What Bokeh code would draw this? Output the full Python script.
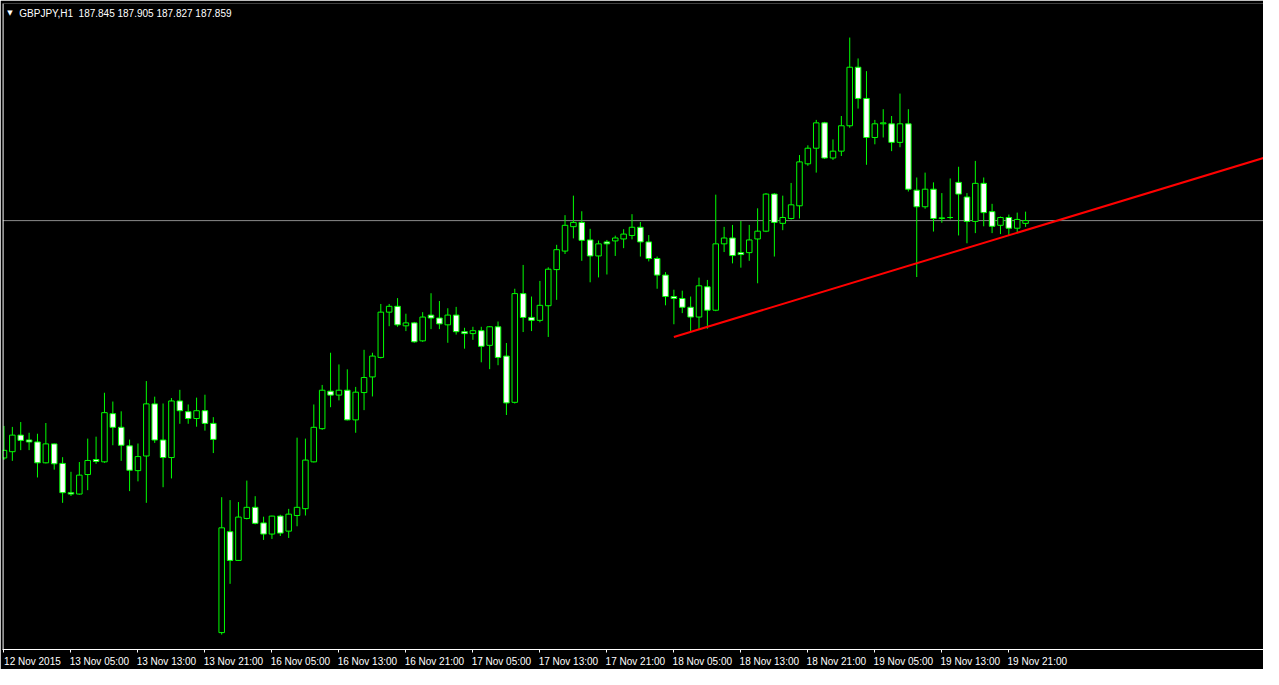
from bokeh.plotting import figure
from bokeh.models import Range1d, FixedTicker, LinearAxis, Span, Label
from bokeh.embed import file_html
from bokeh.resources import INLINE

# ---------------- data (GBPJPY, H1) ----------------
opens = [
    186.643, 186.675, 186.760, 186.735, 186.725, 186.618, 186.715, 186.615, 186.465, 186.458,
    186.558, 186.635, 186.623, 186.870, 186.800, 186.705, 186.578, 186.653, 186.920, 186.735,
    186.645, 186.935, 186.880, 186.845, 186.885, 186.820, 185.748, 186.265, 186.118, 186.333,
    186.390, 186.310, 186.253, 186.345, 186.268, 186.348, 186.383, 186.623, 186.793, 186.985,
    186.965, 186.990, 186.838, 186.978, 187.058, 187.158, 187.390, 187.420, 187.320, 187.335,
    187.243, 187.375, 187.360, 187.325, 187.375, 187.290, 187.280, 187.295, 187.220, 187.315,
    187.165, 186.928, 187.485, 187.363, 187.348, 187.423, 187.608, 187.703, 187.828, 187.850,
    187.760, 187.678, 187.750, 187.755, 187.765, 187.783, 187.825, 187.750, 187.665, 187.580,
    187.470, 187.460, 187.415, 187.365, 187.520, 187.400, 187.740, 187.770, 187.695, 187.695,
    187.765, 187.805, 187.995, 187.845, 187.870, 187.935, 188.150, 188.230, 188.360, 188.180,
    188.215, 188.345, 188.645, 188.485, 188.285, 188.355, 188.355, 188.260, 188.355, 188.015,
    187.930, 188.020, 187.870, 187.875, 188.055, 187.980, 187.855, 188.050, 187.905, 187.835,
    187.875, 187.820, 187.845]

highs = [
    186.807, 186.802, 186.827, 186.772, 186.767, 186.822, 186.717, 186.647, 186.572, 186.622,
    186.742, 186.752, 186.977, 186.932, 186.882, 186.737, 186.717, 187.037, 186.957, 186.922,
    186.950, 186.992, 186.917, 186.952, 186.967, 186.852, 186.442, 186.427, 186.417, 186.527,
    186.447, 186.342, 186.347, 186.352, 186.382, 186.747, 186.742, 186.917, 187.017, 187.182,
    187.122, 187.097, 187.007, 187.197, 187.182, 187.432, 187.432, 187.462, 187.382, 187.340,
    187.390, 187.487, 187.447, 187.410, 187.417, 187.310, 187.315, 187.315, 187.318, 187.342,
    187.232, 187.510, 187.632, 187.470, 187.550, 187.620, 187.735, 187.887, 187.987, 187.907,
    187.817, 187.757, 187.760, 187.782, 187.815, 187.892, 187.852, 187.785, 187.675, 187.595,
    187.505, 187.500, 187.470, 187.567, 187.555, 187.992, 187.827, 187.837, 187.857, 187.837,
    187.922, 188.000, 188.000, 187.987, 188.052, 188.195, 188.245, 188.375, 188.365, 188.275,
    188.395, 188.797, 188.690, 188.625, 188.375, 188.430, 188.395, 188.510, 188.430, 188.080,
    188.105, 188.055, 188.000, 188.075, 188.135, 188.000, 188.165, 188.080, 187.945, 187.880,
    187.890, 187.900, 187.905]

lows = [
    186.633, 186.628, 186.683, 186.683, 186.543, 186.615, 186.583, 186.413, 186.448, 186.455,
    186.478, 186.613, 186.618, 186.708, 186.628, 186.473, 186.523, 186.413, 186.720, 186.493,
    186.538, 186.818, 186.818, 186.803, 186.783, 186.668, 185.738, 185.998, 186.115, 186.328,
    186.303, 186.223, 186.228, 186.243, 186.233, 186.293, 186.348, 186.620, 186.787, 186.903,
    186.938, 186.835, 186.772, 186.888, 186.958, 187.153, 187.318, 187.315, 187.293, 187.233,
    187.238, 187.303, 187.303, 187.233, 187.275, 187.203, 187.248, 187.133, 187.098, 187.118,
    186.863, 186.922, 187.288, 187.293, 187.338, 187.263, 187.453, 187.688, 187.768, 187.653,
    187.543, 187.568, 187.583, 187.678, 187.718, 187.763, 187.675, 187.650, 187.510, 187.425,
    187.328, 187.385, 187.292, 187.303, 187.305, 187.395, 187.698, 187.640, 187.618, 187.653,
    187.538, 187.800, 187.675, 187.810, 187.865, 187.870, 188.140, 188.105, 188.175, 188.170,
    188.190, 188.335, 188.433, 188.145, 188.250, 188.285, 188.215, 188.235, 188.008, 187.570,
    187.920, 187.803, 187.848, 187.865, 187.783, 187.743, 187.795, 187.830, 187.795, 187.790,
    187.783, 187.800, 187.827]

closes = [
    186.682, 186.760, 186.733, 186.725, 186.618, 186.715, 186.613, 186.465, 186.458, 186.555,
    186.630, 186.625, 186.875, 186.800, 186.708, 186.580, 186.650, 186.920, 186.735, 186.645,
    186.935, 186.885, 186.845, 186.885, 186.820, 186.738, 186.285, 186.118, 186.340, 186.390,
    186.308, 186.253, 186.345, 186.258, 186.355, 186.390, 186.632, 186.800, 186.990, 186.965,
    186.990, 186.838, 186.980, 187.055, 187.165, 187.390, 187.420, 187.325, 187.335, 187.238,
    187.365, 187.360, 187.330, 187.375, 187.290, 187.280, 187.295, 187.215, 187.315, 187.158,
    186.925, 187.485, 187.363, 187.348, 187.425, 187.610, 187.710, 187.835, 187.850, 187.758,
    187.678, 187.740, 187.740, 187.770, 187.790, 187.825, 187.750, 187.665, 187.580, 187.470,
    187.460, 187.415, 187.365, 187.525, 187.400, 187.740, 187.770, 187.680, 187.685, 187.760,
    187.805, 187.995, 187.850, 187.875, 187.940, 188.160, 188.230, 188.360, 188.180, 188.215,
    188.345, 188.645, 188.485, 188.285, 188.355, 188.360, 188.260, 188.355, 188.020, 187.930,
    188.020, 187.870, 187.873, 187.875, 187.995, 187.855, 188.050, 187.900, 187.830, 187.875,
    187.820, 187.865, 187.859]

tick_labels = ["12 Nov 2015", "13 Nov 05:00", "13 Nov 13:00", "13 Nov 21:00",
               "16 Nov 05:00", "16 Nov 13:00", "16 Nov 21:00", "17 Nov 05:00",
               "17 Nov 13:00", "17 Nov 21:00", "18 Nov 05:00", "18 Nov 13:00",
               "18 Nov 21:00", "19 Nov 05:00", "19 Nov 13:00", "19 Nov 21:00"]
tick_bars = [0, 8, 16, 24, 32, 40, 48, 56, 64, 72, 80, 88, 96, 104, 112, 120]

# trend line drawn on the chart (bar index, price)
trend_x = [80, 150.5]
trend_y = [187.263, 188.181]

symbol = "GBPJPY,H1"

# ---------------- layout helpers (reference pixel -> data) ----------------
BAR_PX, X0_PX = 8.48, 3.5
PX_PER_YEN, Y_REF_PX, Y_REF = 200.0, 225.5, 187.859


def xd(px):
    return (px - X0_PX) / BAR_PX


def yd(py):
    return Y_REF + (Y_REF_PX - py) / PX_PER_YEN


W, H = 1263, 669
LIME = "#00ff00"

p = figure(width=W, height=H, output_backend="svg", toolbar_location=None,
           x_range=Range1d(xd(2), xd(1279)), y_range=Range1d(yd(665), yd(3)),
           background_fill_color="black", border_fill_color="black",
           min_border_left=2, min_border_right=0, min_border_top=3,
           min_border_bottom=19, outline_line_color=None)
p.grid.visible = False
p.yaxis.visible = False

n = len(opens)
idx = list(range(n))
tops = [max(o, c) for o, c in zip(opens, closes)]
bots = [min(o, c) for o, c in zip(opens, closes)]
fills = ["black" if c > o else "white" for o, c in zip(opens, closes)]

# bid line
p.add_layout(Span(location=closes[-1], dimension="width", line_color="#8c8c8c",
                  line_width=1, level="underlay"))

p.segment(x0=idx, y0=lows, x1=idx, y1=highs, line_color=LIME, line_width=1)
p.vbar(x=idx, width=0.66, top=tops, bottom=bots, fill_color=fills,
       line_color=LIME, line_width=1)

p.line(trend_x, trend_y, line_color="#ff0000", line_width=2)

# left border of the chart window
p.add_layout(Span(location=xd(2.6), dimension="height", line_color="white", line_width=1))

# header
header = (f"{symbol}\u00a0\u00a0{opens[-1]:.3f} {highs[-1]:.3f} "
          f"{lows[-1]:.3f} {closes[-1]:.3f}")
p.add_layout(Label(x=xd(19), y=yd(13), text=header, text_color="white",
                   text_font="Liberation Sans", text_font_size="10px",
                   text_baseline="middle", text_align="left"))
p.add_layout(Label(x=xd(9.5), y=yd(13), text="\u25bc", text_color="white",
                   text_font="DejaVu Sans", text_font_size="7px",
                   text_baseline="middle", text_align="center"))

# x axis: tick marks
xa = p.xaxis[0]
xa.ticker = FixedTicker(ticks=tick_bars)
xa.axis_line_color = "white"
xa.major_tick_line_color = "white"
xa.major_tick_out = 3
xa.major_tick_in = 0
xa.minor_tick_line_color = None
xa.major_label_text_color = None
xa.major_label_text_font_size = "1px"
xa.major_label_standoff = 0

# x axis: labels, left-aligned to their tick (shifted range)
LABEL_SHIFT = 3.4
p.extra_x_ranges = {"lab": Range1d(xd(2) - LABEL_SHIFT, xd(1279) - LABEL_SHIFT)}
la = LinearAxis(x_range_name="lab", ticker=FixedTicker(ticks=tick_bars),
                major_label_overrides={b: t for b, t in zip(tick_bars, tick_labels)})
la.axis_line_color = None
la.major_tick_line_color = None
la.minor_tick_line_color = None
la.major_tick_out = 0
la.major_tick_in = 0
la.major_label_standoff = 3
la.major_label_text_color = "white"
la.major_label_text_font = "Liberation Sans"
la.major_label_text_font_size = "10px"
p.add_layout(la, "below")

open("out.html", "w").write(file_html(p, INLINE))
